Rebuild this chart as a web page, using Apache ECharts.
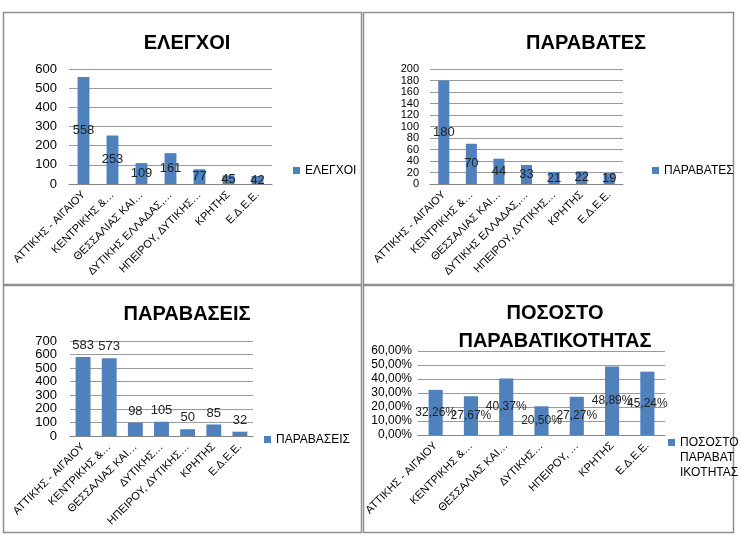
<!DOCTYPE html>
<html>
<head>
<meta charset="utf-8">
<script src="https://cdn.jsdelivr.net/npm/echarts@6/dist/echarts.min.js"></script>
<style>
html, body { margin: 0; padding: 0; background: #fff; }
#main { width: 741px; height: 540px; }
</style>
</head>
<body>
<div id="main"></div>
<script>
// categories (as shown on the axes, already cut short)
var categories = ['ΑΤΤΙΚΗΣ - ΑΙΓΑΙΟΥ', 'ΚΕΝΤΡΙΚΗΣ &…', 'ΘΕΣΣΑΛΙΑΣ ΚΑΙ…', 'ΔΥΤΙΚΗΣ ΕΛΛΑΔΑΣ,…', 'ΗΠΕΙΡΟΥ, ΔΥΤΙΚΗΣ…', 'ΚΡΗΤΗΣ', 'Ε.Δ.Ε.Ε.'];
var categories3 = ['ΑΤΤΙΚΗΣ - ΑΙΓΑΙΟΥ', 'ΚΕΝΤΡΙΚΗΣ &…', 'ΘΕΣΣΑΛΙΑΣ ΚΑΙ…', 'ΔΥΤΙΚΗΣ…', 'ΗΠΕΙΡΟΥ, ΔΥΤΙΚΗΣ…', 'ΚΡΗΤΗΣ', 'Ε.Δ.Ε.Ε.'];
var categories4 = ['ΑΤΤΙΚΗΣ - ΑΙΓΑΙΟΥ', 'ΚΕΝΤΡΙΚΗΣ &…', 'ΘΕΣΣΑΛΙΑΣ ΚΑΙ…', 'ΔΥΤΙΚΗΣ…', 'ΗΠΕΙΡΟΥ, …', 'ΚΡΗΤΗΣ', 'Ε.Δ.Ε.Ε.'];

var elegxoi = [558, 253, 109, 161, 77, 45, 42];
var paravates = [180, 70, 44, 33, 21, 22, 19];
var paravaseis = [583, 573, 98, 105, 50, 85, 32];
var pososto = [32.26, 27.67, 40.37, 20.50, 27.27, 48.89, 45.24];

var BLUE = '#4F81BD';
var FONT = 'Liberation Sans';

function pct(v) {
    return v.toFixed(2).replace('.', ',') + '%';
}

// square at the top of a tall box, so it sits next to the first line of a 3-line legend
var tallIcon = 'path://M0,0h0.05v0.05h-0.05Z M0,4h7v7h-7Z M0,45h0.05v0.05h-0.05Z';

// one entry per panel
var panels = [
    { name: 'ΕΛΕΓΧΟΙ', title: 'ΕΛΕΓΧΟΙ', tx: 182, ty: 24, cats: categories, data: elegxoi,
      grid: { left: 69, top: 69, width: 203, height: 115 }, max: 600, interval: 100, yFont: 13, yMargin: 12,
      barWidth: '41%', labelPos: 'inside', labelFont: 13,
      legend: { left: 293, top: 163 }, box: [3, 12, 358, 272] },
    { name: 'ΠΑΡΑΒΑΤΕΣ', title: 'ΠΑΡΑΒΑΤΕΣ', tx: 581, ty: 24, cats: categories, data: paravates,
      grid: { left: 430, top: 69, width: 193, height: 115 }, max: 200, interval: 20, yFont: 11, yMargin: 11,
      barWidth: '40%', labelPos: 'inside', labelFont: 13,
      legend: { left: 652, top: 163 }, box: [363, 12, 370, 272] },
    { name: 'ΠΑΡΑΒΑΣΕΙΣ', title: 'ΠΑΡΑΒΑΣΕΙΣ', tx: 182, ty: 295, cats: categories3, data: paravaseis,
      grid: { left: 70, top: 341, width: 183, height: 95 }, max: 700, interval: 100, yFont: 13, yMargin: 13,
      barWidth: '57%', labelPos: 'top', labelFont: 13,
      legend: { left: 264, top: 432 }, box: [3, 285, 358, 247] },
    { name: 'ΠΟΣΟΣΤΟ ΠΑΡΑΒΑΤΙΚΟΤΗΤΑΣ', title: 'ΠΟΣΟΣΤΟ\nΠΑΡΑΒΑΤΙΚΟΤΗΤΑΣ', tx: 550, ty: 294, cats: categories4, data: pososto,
      grid: { left: 418, top: 351, width: 247, height: 84 }, max: 60, interval: 10, yFont: 12, yMargin: 6,
      barWidth: '40%', labelPos: 'inside', labelFont: 12, pct: true,
      legend: { left: 668, top: 435 }, box: [363, 285, 370, 247] }
];

var option = {
    backgroundColor: '#fff',
    animation: false,
    title: [], grid: [], xAxis: [], yAxis: [], legend: [], series: [], graphic: []
};

panels.forEach(function (p, i) {
    option.title.push({
        text: p.title, left: p.tx, top: p.ty, textAlign: 'center',
        textStyle: { fontFamily: FONT, fontSize: 20, fontWeight: 'bold', color: '#000', lineHeight: 28 }
    });
    option.grid.push(p.grid);
    option.xAxis.push({
        type: 'category', gridIndex: i, data: p.cats,
        axisLine: { lineStyle: { color: '#868686' } },
        axisTick: { length: 4, lineStyle: { color: '#868686' } },
        axisLabel: { rotate: 45, interval: 0, margin: 9, fontFamily: FONT, fontSize: 11, color: '#000' }
    });
    option.yAxis.push({
        type: 'value', gridIndex: i, min: 0, max: p.max, interval: p.interval,
        axisLine: { show: false }, axisTick: { show: false },
        splitLine: { lineStyle: { color: '#9a9a9a' } },
        axisLabel: {
            fontFamily: FONT, fontSize: p.yFont, color: '#000', margin: p.yMargin,
            formatter: p.pct ? function (v) { return pct(v); } : '{value}'
        }
    });
    option.legend.push({
        data: [p.name], left: p.legend.left, top: p.legend.top, orient: 'vertical',
        itemWidth: 7, itemHeight: p.pct ? 45 : 7, padding: 0,
        icon: p.pct ? tallIcon : 'rect',
        textStyle: { fontFamily: FONT, fontSize: 12, color: '#000', lineHeight: 15 },
        formatter: p.pct ? function () { return 'ΠΟΣΟΣΤΟ\nΠΑΡΑΒΑΤ\nΙΚΟΤΗΤΑΣ'; } : '{name}'
    });
    option.series.push({
        type: 'bar', name: p.name, xAxisIndex: i, yAxisIndex: i, data: p.data,
        barWidth: p.barWidth, itemStyle: { color: BLUE },
        label: {
            show: true, position: p.labelPos, fontFamily: FONT, fontSize: p.labelFont, color: '#222',
            formatter: p.pct ? function (d) { return pct(d.value); } : '{c}'
        }
    });
    option.graphic.push({
        type: 'rect', silent: true,
        shape: { x: p.box[0] + 0.5, y: p.box[1] + 0.5, width: p.box[2], height: p.box[3] },
        style: { fill: 'none', stroke: '#8f8f8f', lineWidth: 1.5 }
    });
});

var myChart = echarts.init(document.getElementById('main'));
myChart.setOption(option);
</script>
</body>
</html>
